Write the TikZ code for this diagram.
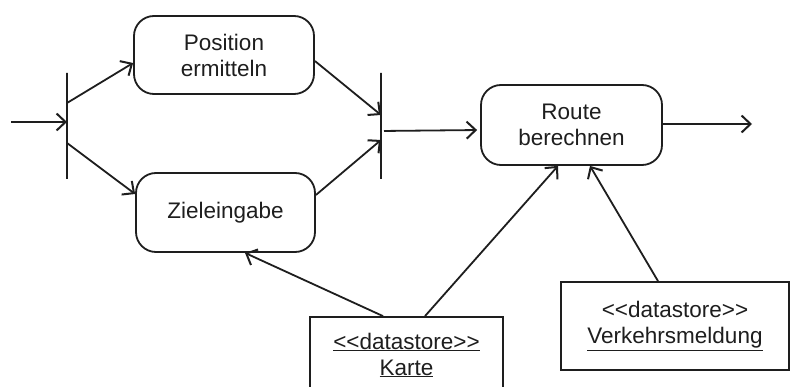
\documentclass[tikz,border=0pt]{standalone}
\usepackage{fontspec}
\setmainfont{Liberation Sans}
\usetikzlibrary{arrows.meta}
\definecolor{ink}{HTML}{1E1E1E}
\tikzset{
  lbl/.style={font=\fontsize{22.5}{26}\selectfont, text=ink, align=center},
  action/.style={lbl, draw=ink, line width=1.8pt, rounded corners=20pt, inner sep=0pt, fill=white},
  store/.style={lbl, draw=ink, line width=1.8pt, inner sep=0pt, fill=white},
  bar/.style={draw=ink, line width=1.6pt, minimum width=0pt, inner sep=0pt, minimum height=106pt},
  arr/.style={draw=ink, line width=1.8pt, -{Straight Barb[length=9pt,width=17pt,line width=2pt]}},
}
\newcommand{\dstore}{<{}<{}datastore>{}>}
\begin{document}
\begin{tikzpicture}[x=1pt,y=-1pt]
\path[use as bounding box, clip] (0,0) rectangle (790,387);
\fill[white] (0,0) rectangle (790,387);
% nodes
\node[action, minimum width=180pt, minimum height=78pt] (pos) at (224,55) {Position\\ermitteln};
\node[action, minimum width=179pt, minimum height=79pt] (ziel) at (225.5,212.5) {Zieleingabe};
\node[action, minimum width=181pt, minimum height=80pt] (route) at (571.5,125) {Route\\berechnen};
\node[bar] (fork) at (67,126) {};
\node[bar] (join) at (381,126) {};
\node[store, minimum width=193pt, minimum height=76pt] (karte) at (406.5,355) {\underline{\dstore}\\\underline{Karte}};
\node[store, minimum width=228pt, minimum height=88pt] (verk) at (675,326) {\dstore\\\underline{Verkehrsmeldung}};
\coordinate (start) at (11,122);
\coordinate (finish) at (752,124);
% connectors
\draw[arr] (start) -- (start -| fork.center);
\draw[arr] ([yshift=23pt]fork.center) -- ([yshift=-8pt]pos.west);
\draw[arr] ([yshift=-17pt]fork.center) -- ([yshift=18.5pt]ziel.west);
\draw[arr] ([yshift=-6pt]pos.east) -- ([yshift=11pt]join.center);
\draw[arr] ([yshift=17.5pt]ziel.east) -- ([yshift=-14pt]join.center);
\draw[arr, shorten <=3pt, shorten >=3pt] ([yshift=-5pt]join.center) -- ([yshift=-5pt]route.west);
\draw[arr] ([yshift=1pt]route.east) -- (finish);
\draw[arr] ([xshift=-23.5pt]karte.north) -- ([xshift=19.5pt]ziel.south);
\draw[arr] ([xshift=18.5pt]karte.north) -- ([xshift=-13.5pt]route.south);
\draw[arr] ([xshift=-17pt]verk.north) -- ([xshift=18.5pt]route.south);
\end{tikzpicture}
\end{document}
